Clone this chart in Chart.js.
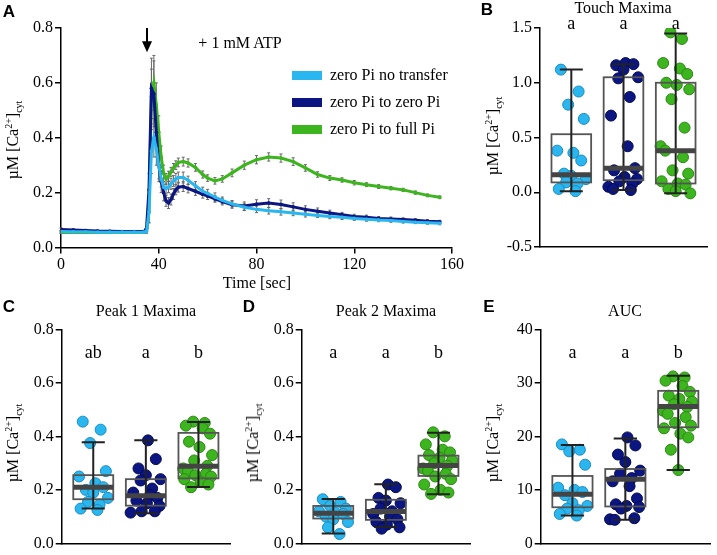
<!DOCTYPE html>
<html>
<head>
<meta charset="utf-8">
<script src="https://cdn.jsdelivr.net/npm/chart.js@4.4.0/dist/chart.umd.min.js"></script>
<style>
  body { margin: 0; background: #fff; }
  #fig { position: relative; width: 717px; height: 555px; overflow: hidden; font-family: 'Liberation Serif', 'Times New Roman', serif; color: #000; }
  #fig canvas { position: absolute; }
  .txt { position: absolute; transform: translate(-50%, -50%); white-space: nowrap; font-size: 16px; line-height: 1; }
  .letter { position: absolute; transform: translate(-50%, -50%); font: bold 17px 'Liberation Sans', Arial, sans-serif; line-height: 1; }
  .ylab { position: absolute; transform: translate(-50%, -50%) rotate(-90deg); white-space: nowrap; font-size: 16px; line-height: 1; }
  .ylab sup, .ylab sub { font-size: 10px; line-height: 0; }
  .legend { position: absolute; left: 292px; font-size: 16px; line-height: 16px; white-space: nowrap; }
  .legend .sw { display: inline-block; width: 30px; height: 9px; vertical-align: middle; margin-right: 8px; position: relative; top: -1px; }
</style>
</head>
<body>
<div id="fig">
  <canvas id="chartA" width="470" height="285" style="left:0;top:0"></canvas>
  <canvas id="chartB" width="237" height="260" style="left:480px;top:0"></canvas>
  <canvas id="chartC" width="240" height="270" style="left:0;top:285px"></canvas>
  <canvas id="chartD" width="240" height="270" style="left:240px;top:285px"></canvas>
  <canvas id="chartE" width="237" height="270" style="left:480px;top:285px"></canvas>

  <div class="letter" style="left:9px;top:11px">A</div>
  <div class="letter" style="left:487px;top:9px">B</div>
  <div class="letter" style="left:9px;top:306px">C</div>
  <div class="letter" style="left:249px;top:306px">D</div>
  <div class="letter" style="left:489px;top:306px">E</div>

  <div class="txt" style="left:623px;top:8px">Touch Maxima</div>
  <div class="txt" style="left:146px;top:311px">Peak 1 Maxima</div>
  <div class="txt" style="left:386px;top:311px">Peak 2 Maxima</div>
  <div class="txt" style="left:625px;top:311px">AUC</div>
  <div class="txt" style="left:240px;top:43px">+ 1 mM ATP</div>
  <div class="txt" style="left:257px;top:283px">Time [sec]</div>

  <div class="ylab" style="left:13px;top:140px">&micro;M [Ca<sup>2+</sup>]<sub>cyt</sub></div>
  <div class="ylab" style="left:493px;top:136px">&micro;M [Ca<sup>2+</sup>]<sub>cyt</sub></div>
  <div class="ylab" style="left:13px;top:443px">&micro;M [Ca<sup>2+</sup>]<sub>cyt</sub></div>
  <div class="ylab" style="left:253px;top:443px">&micro;M [Ca<sup>2+</sup>]<sub>cyt</sub></div>
  <div class="ylab" style="left:493px;top:443px">&micro;M [Ca<sup>2+</sup>]<sub>cyt</sub></div>

  <div id="legendA"></div>
</div>

<script>
// groups and colours
const groups = ['zero Pi no transfer', 'zero Pi to zero Pi', 'zero Pi to full Pi'];
const groupColors = ['#2ab6ee', '#0b1682', '#3db51e'];
const groupEdges = ['#1a8cc2', '#050b4e', '#2a8812'];

// panel A: time course
const timeSec = [0, 5, 10, 15, 20, 25, 30, 34, 35, 36, 37, 38, 39, 40, 41, 42, 43, 44, 45, 46, 47, 48,
  50, 52, 55, 58, 60, 63, 66, 70, 75, 80, 85, 90, 95, 100, 105, 110, 115, 120, 125, 130, 135, 140, 145, 150, 155];

const noTransferTrace = [0.058, 0.057, 0.057, 0.056, 0.056, 0.056, 0.056, 0.056, 0.058, 0.13, 0.35, 0.40, 0.36, 0.30, 0.25, 0.22, 0.215, 0.22, 0.232, 0.242, 0.25, 0.255,
  0.255, 0.245, 0.225, 0.205, 0.197, 0.184, 0.172, 0.159, 0.147, 0.139, 0.134, 0.130, 0.126, 0.121, 0.117, 0.113, 0.110, 0.106, 0.103, 0.100, 0.098, 0.095, 0.092, 0.090, 0.088];
const zeroPiTrace = [0.066, 0.064, 0.062, 0.060, 0.059, 0.058, 0.058, 0.058, 0.07, 0.21, 0.58, 0.56, 0.42, 0.30, 0.24, 0.20, 0.17, 0.162, 0.175, 0.195, 0.21, 0.22,
  0.222, 0.215, 0.205, 0.194, 0.188, 0.177, 0.167, 0.156, 0.151, 0.158, 0.162, 0.157, 0.148, 0.139, 0.132, 0.126, 0.119, 0.113, 0.110, 0.106, 0.104, 0.102, 0.099, 0.096, 0.094];
const fullPiTrace = [0.055, 0.055, 0.055, 0.055, 0.055, 0.056, 0.056, 0.056, 0.06, 0.13, 0.55, 0.60, 0.52, 0.42, 0.33, 0.27, 0.25, 0.26, 0.275, 0.29, 0.30, 0.31,
  0.313, 0.308, 0.292, 0.266, 0.253, 0.243, 0.25, 0.272, 0.300, 0.320, 0.330, 0.326, 0.313, 0.290, 0.266, 0.253, 0.246, 0.236, 0.229, 0.222, 0.216, 0.210, 0.200, 0.190, 0.183];

const noTransferErr = [0.004, 0.004, 0.004, 0.004, 0.004, 0.004, 0.004, 0.004, 0.006, 0.04, 0.08, 0.07, 0.06, 0.05, 0.03, 0.02, 0.02, 0.02, 0.02, 0.02, 0.02, 0.02,
  0.02, 0.015, 0.015, 0.015, 0.015, 0.015, 0.012, 0.012, 0.012, 0.012, 0.012, 0.012, 0.01, 0.01, 0.008, 0.008, 0.008, 0.007, 0.007, 0.006, 0.006, 0.006, 0.005, 0.005, 0.005];
const zeroPiErr = [0.005, 0.004, 0.004, 0.004, 0.004, 0.004, 0.004, 0.004, 0.008, 0.06, 0.11, 0.12, 0.09, 0.06, 0.04, 0.03, 0.02, 0.02, 0.02, 0.02, 0.018, 0.018,
  0.018, 0.016, 0.015, 0.014, 0.013, 0.012, 0.012, 0.013, 0.015, 0.016, 0.016, 0.016, 0.015, 0.013, 0.012, 0.01, 0.009, 0.008, 0.008, 0.007, 0.007, 0.006, 0.006, 0.005, 0.005];
const fullPiErr = [0.004, 0.004, 0.004, 0.004, 0.004, 0.004, 0.004, 0.004, 0.006, 0.04, 0.10, 0.10, 0.08, 0.06, 0.04, 0.03, 0.02, 0.018, 0.017, 0.016, 0.016, 0.016,
  0.016, 0.015, 0.014, 0.013, 0.012, 0.012, 0.012, 0.014, 0.015, 0.015, 0.015, 0.015, 0.014, 0.012, 0.01, 0.009, 0.008, 0.008, 0.007, 0.007, 0.006, 0.006, 0.006, 0.005, 0.005];

// panel B: touch maxima
const touchNoTransfer = [1.12, 0.92, 0.80, 0.67, 0.38, 0.36, 0.29, 0.17, 0.15, 0.12, 0.09, 0.08, 0.03, 0.01];
const touchZeroPi = [1.18, 1.17, 1.16, 1.12, 1.05, 1.04, 0.87, 0.70, 0.42, 0.22, 0.20, 0.14, 0.12, 0.10, 0.08, 0.05, 0.03, 0.02];
const touchFullPi = [1.46, 1.40, 1.18, 1.13, 1.08, 1.00, 0.98, 0.94, 0.85, 0.59, 0.42, 0.38, 0.32, 0.20, 0.17, 0.10, 0.08, 0.07, 0.03, 0.01, -0.01];
// [whisker low, q1, median, q3, whisker high]
const touchBoxes = [[0.01, 0.09, 0.16, 0.53, 1.12], [0.02, 0.11, 0.22, 1.05, 1.17], [-0.01, 0.08, 0.38, 1.00, 1.45]];
const touchLetters = ['a', 'a', 'a'];

// panel C: peak 1 maxima
const peak1NoTransfer = [0.455, 0.425, 0.375, 0.27, 0.25, 0.225, 0.21, 0.20, 0.19, 0.17, 0.155, 0.145, 0.13, 0.125];
const peak1ZeroPi = [0.385, 0.315, 0.28, 0.255, 0.24, 0.235, 0.205, 0.19, 0.18, 0.17, 0.16, 0.15, 0.14, 0.12, 0.12, 0.115];
const peak1FullPi = [0.455, 0.45, 0.44, 0.43, 0.41, 0.38, 0.36, 0.33, 0.31, 0.29, 0.28, 0.27, 0.26, 0.255, 0.25, 0.24, 0.23, 0.22, 0.21];
const peak1Boxes = [[0.13, 0.165, 0.21, 0.255, 0.378], [0.113, 0.141, 0.178, 0.24, 0.385], [0.211, 0.243, 0.288, 0.413, 0.454]];
const peak1Letters = ['ab', 'a', 'b'];

// panel D: peak 2 maxima
const peak2NoTransfer = [0.165, 0.155, 0.14, 0.13, 0.12, 0.115, 0.11, 0.10, 0.09, 0.08, 0.06, 0.035];
const peak2ZeroPi = [0.22, 0.21, 0.17, 0.16, 0.15, 0.13, 0.12, 0.11, 0.10, 0.09, 0.08, 0.07, 0.06, 0.055];
const peak2FullPi = [0.415, 0.40, 0.37, 0.35, 0.34, 0.33, 0.32, 0.31, 0.30, 0.29, 0.28, 0.27, 0.26, 0.25, 0.24, 0.22, 0.20, 0.19, 0.185];
const peak2Boxes = [[0.037, 0.093, 0.113, 0.14, 0.166], [0.061, 0.088, 0.119, 0.163, 0.221], [0.184, 0.252, 0.291, 0.328, 0.413]];
const peak2Letters = ['a', 'a', 'b'];

// panel E: AUC
const aucNoTransfer = [18.5, 17.5, 17.2, 14.7, 10.4, 10.0, 9.6, 9.0, 7.5, 7.0, 6.5, 6.2, 5.5, 5.2];
const aucZeroPi = [19.8, 18.3, 16.6, 15.2, 13.6, 13.0, 12.2, 11.6, 10.7, 8.4, 7.3, 7.0, 6.8, 6.5, 4.7, 4.5, 4.4];
const aucFullPi = [31.2, 31.0, 30.4, 29.4, 28.3, 27.6, 27.0, 26.5, 26.0, 25.5, 24.8, 24.2, 23.6, 22.5, 22.0, 21.5, 20.5, 19.8, 17.5, 13.7];
const aucBoxes = [[5.2, 6.75, 9.2, 12.6, 18.4], [4.4, 6.9, 12.0, 13.9, 19.6], [13.7, 21.7, 25.6, 28.5, 31.3]];
const aucLetters = ['a', 'a', 'b'];

// horizontal scatter of the dots inside a group (layout only)
const jitter = [-0.2, 0.14, -0.06, 0.24, -0.27, 0.04, 0.19, -0.14, 0.0, 0.28, -0.1, 0.12, -0.24, 0.08, 0.22, -0.18, 0.02, 0.26, -0.08, 0.17, -0.29];

const serif = "'Liberation Serif', 'Times New Roman', serif";

// legend for panel A
const legendTops = [67, 94, 121];
document.getElementById('legendA').innerHTML = groups.map((g, i) =>
  `<div class="legend" style="top:${legendTops[i]}px"><span class="sw" style="background:${groupColors[i]}"></span>${g}</div>`).join('');

function axisY(min, max, step, digits, width) {
  return {
    min: min, max: max,
    ticks: { stepSize: step, color: '#000', font: { family: serif, size: 16 }, padding: 2,
      callback: v => v.toFixed(digits) },
    grid: { display: true, drawOnChartArea: false, drawTicks: true, tickLength: 6, color: '#000', lineWidth: 1.5 },
    border: { display: true, color: '#000', width: 1.5 },
    afterFit: s => { s.width = width; }
  };
}

// error bars behind the traces
const errorBars = {
  id: 'errorBars',
  beforeDatasetsDraw(chart) {
    const { ctx, scales: { x, y } } = chart;
    ctx.save();
    ctx.strokeStyle = '#666';
    ctx.lineWidth = 1;
    chart.data.datasets.forEach(ds => {
      ds.data.forEach((p, i) => {
        const e = ds.errors[i];
        const px = x.getPixelForValue(p.x);
        const t = y.getPixelForValue(p.y + e), b = y.getPixelForValue(p.y - e);
        ctx.beginPath();
        ctx.moveTo(px, t); ctx.lineTo(px, b);
        ctx.moveTo(px - 1.5, t); ctx.lineTo(px + 1.5, t);
        ctx.moveTo(px - 1.5, b); ctx.lineTo(px + 1.5, b);
        ctx.stroke();
      });
    });
    ctx.restore();
  },
  afterDraw(chart) {
    // ATP addition arrow
    const { ctx, scales: { x, y } } = chart;
    const ax = x.getPixelForValue(35.2);
    const top = y.getPixelForValue(0.8), tip = y.getPixelForValue(0.712);
    ctx.save();
    ctx.strokeStyle = '#000'; ctx.fillStyle = '#000'; ctx.lineWidth = 2;
    ctx.beginPath(); ctx.moveTo(ax, top); ctx.lineTo(ax, tip - 6); ctx.stroke();
    ctx.beginPath(); ctx.moveTo(ax - 5, tip - 11); ctx.lineTo(ax + 5, tip - 11); ctx.lineTo(ax, tip); ctx.closePath(); ctx.fill();
    ctx.restore();
  }
};

const traces = [noTransferTrace, zeroPiTrace, fullPiTrace];
const traceErrs = [noTransferErr, zeroPiErr, fullPiErr];

new Chart(document.getElementById('chartA').getContext('2d'), {
  type: 'line',
  data: {
    datasets: traces.map((tr, g) => ({
      label: groups[g],
      data: tr.map((v, i) => ({ x: timeSec[i], y: v })),
      errors: traceErrs[g],
      borderColor: groupColors[g],
      backgroundColor: groupColors[g],
      borderWidth: 3,
      pointRadius: 1.8,
      pointBorderWidth: 0,
      tension: 0
    }))
  },
  options: {
    responsive: false, animation: false, events: [],
    layout: { padding: { left: 0, right: 18, top: 28, bottom: 7.5 } },
    plugins: { legend: { display: false }, tooltip: { enabled: false } },
    scales: {
      x: {
        type: 'linear', min: 0, max: 160,
        ticks: { stepSize: 40, color: '#000', font: { family: serif, size: 16 }, padding: 2, maxRotation: 0 },
        grid: { display: true, drawOnChartArea: false, drawTicks: true, tickLength: 6, color: '#000', lineWidth: 1.5 },
        border: { display: true, color: '#000', width: 1.5 },
        afterFit: s => { s.height = 30; }
      },
      y: axisY(0, 0.8, 0.2, 1, 61)
    }
  },
  plugins: [errorBars]
});

// box, whiskers, median and significance letters
const boxPlot = {
  id: 'boxPlot',
  afterDatasetsDraw(chart, args, opts) {
    const { ctx, scales: { x, y }, chartArea } = chart;
    ctx.save();
    opts.stats.forEach((s, i) => {
      const cx = x.getPixelForValue(i + 1);
      const half = x.getPixelForValue(i + 1 + opts.boxWidth / 2) - cx;
      const cap = x.getPixelForValue(i + 1 + opts.capWidth / 2) - cx;
      const [lo, q1, med, q3, hi] = s.map(v => y.getPixelForValue(v));
      ctx.strokeStyle = '#555'; ctx.lineWidth = 1.8;
      ctx.strokeRect(cx - half, q3, half * 2, q1 - q3);
      ctx.strokeStyle = '#222'; ctx.lineWidth = 2;
      ctx.beginPath();
      ctx.moveTo(cx, lo); ctx.lineTo(cx, hi);
      ctx.moveTo(cx - cap, lo); ctx.lineTo(cx + cap, lo);
      ctx.moveTo(cx - cap, hi); ctx.lineTo(cx + cap, hi);
      ctx.stroke();
      ctx.strokeStyle = '#444'; ctx.lineWidth = 5;
      ctx.beginPath(); ctx.moveTo(cx - half, med); ctx.lineTo(cx + half, med); ctx.stroke();
      ctx.fillStyle = '#000';
      ctx.font = `18px ${serif}`;
      ctx.textAlign = 'center'; ctx.textBaseline = 'alphabetic';
      ctx.fillText(opts.letters[i], cx, chartArea.top + opts.letterOffset);
    });
    ctx.restore();
  }
};

function makeBoxChart(id, values, stats, letters, yMin, yMax, step, digits, axisWidth, padding, letterOffset) {
  return new Chart(document.getElementById(id).getContext('2d'), {
    type: 'scatter',
    data: {
      datasets: values.map((vals, g) => ({
        label: groups[g],
        data: vals.map((v, i) => ({ x: g + 1 + jitter[(i + g * 5) % jitter.length], y: v })),
        backgroundColor: groupColors[g],
        borderColor: groupEdges[g],
        borderWidth: 1,
        pointRadius: 5.5
      }))
    },
    options: {
      responsive: false, animation: false, events: [],
      layout: { padding: padding },
      plugins: {
        legend: { display: false }, tooltip: { enabled: false },
        boxPlot: { stats: stats, letters: letters, boxWidth: 0.76, capWidth: 0.44, letterOffset: letterOffset }
      },
      scales: {
        x: {
          type: 'linear', min: 0.4, max: 3.6,
          ticks: { display: false },
          grid: { display: false },
          border: { display: true, color: '#000', width: 1.5 },
          afterFit: s => { s.height = 0; }
        },
        y: axisY(yMin, yMax, step, digits, axisWidth)
      }
    },
    plugins: [boxPlot]
  });
}

makeBoxChart('chartB', [touchNoTransfer, touchZeroPi, touchFullPi], touchBoxes, touchLetters,
  -0.5, 1.5, 0.5, 1, 60, { left: 0, right: 10, top: 28, bottom: 13 }, 1);
makeBoxChart('chartC', [peak1NoTransfer, peak1ZeroPi, peak1FullPi], peak1Boxes, peak1Letters,
  0, 0.8, 0.2, 1, 61.7, { left: 0, right: 10, top: 44.3, bottom: 8.3 }, 29);
makeBoxChart('chartD', [peak2NoTransfer, peak2ZeroPi, peak2FullPi], peak2Boxes, peak2Letters,
  0, 0.8, 0.2, 1, 61.7, { left: 0, right: 10, top: 44.3, bottom: 8.3 }, 29);
makeBoxChart('chartE', [aucNoTransfer, aucZeroPi, aucFullPi], aucBoxes, aucLetters,
  0, 40, 10, 0, 60.7, { left: 0, right: 7, top: 44.3, bottom: 8.3 }, 29);
</script>
</body>
</html>
